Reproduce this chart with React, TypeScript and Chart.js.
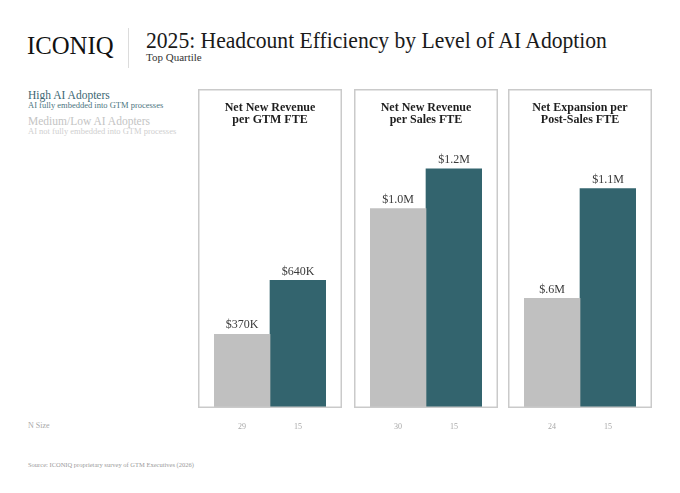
import React, { useEffect, useRef } from "react";
import { Chart, registerables } from "chart.js";

Chart.register(...registerables);

const panelTitles: string[][] = [
  ["Net New Revenue", "per GTM FTE"],
  ["Net New Revenue", "per Sales FTE"],
  ["Net Expansion per", "Post-Sales FTE"],
];
// values in $K
const mediumLowValues = [370, 1000, 550];
const highValues = [640, 1200, 1100];
const mediumLowLabels = ["$370K", "$1.0M", "$.6M"];
const highLabels = ["$640K", "$1.2M", "$1.1M"];
const mediumLowN = ["29", "30", "24"];
const highN = ["15", "15", "15"];
const yMax = 1600;

const SERIF = "'Liberation Serif', 'Times New Roman', serif";
const GRAY = "#c0c0c0";
const TEAL = "#33646e";

const panelLefts = [198, 354, 508];
const PANEL_W = 144;
const PANEL_TOP = 89;
const CANVAS_H = 352;
const INSET = 16;

function Panel({ index }: { index: number }) {
  const ref = useRef<HTMLCanvasElement | null>(null);
  useEffect(() => {
    if (!ref.current) return;
    const labelsByDataset = [
      [mediumLowLabels[index], ""],
      ["", highLabels[index]],
    ];
    const decor = {
      id: "panelDecor",
      afterDatasetsDraw(chart: any) {
        const { ctx, chartArea } = chart;
        ctx.save();
        // value labels
        ctx.font = `12px ${SERIF}`;
        ctx.fillStyle = "#3a3a3a";
        ctx.textAlign = "center";
        ctx.textBaseline = "middle";
        chart.data.datasets.forEach((ds: any, di: number) => {
          const meta = chart.getDatasetMeta(di);
          meta.data.forEach((el: any, j: number) => {
            if (ds.data[j] == null) return;
            ctx.fillText(labelsByDataset[di][j], el.x, el.y - 9);
          });
        });
        // box
        const left = chartArea.left - INSET;
        const right = chartArea.right + INSET;
        ctx.strokeStyle = "#cacaca";
        ctx.lineWidth = 1.5;
        ctx.strokeRect(left + 0.75, chartArea.top + 0.75, right - left - 1.5, chartArea.bottom - chartArea.top - 1.5);
        // title
        ctx.font = `bold 12px ${SERIF}`;
        ctx.fillStyle = "#1e1e1e";
        const cx = (left + right) / 2;
        panelTitles[index].forEach((line, k) => {
          ctx.fillText(line, cx, chartArea.top + 18.5 + k * 12.5);
        });
        ctx.restore();
      },
    };
    const chart = new Chart(ref.current, {
      type: "bar",
      data: {
        labels: [mediumLowN[index], highN[index]],
        datasets: [
          {
            label: "Medium/Low AI Adopters",
            data: [mediumLowValues[index], null],
            backgroundColor: GRAY,
            borderWidth: 0,
            barPercentage: 1,
            categoryPercentage: 1,
          },
          {
            label: "High AI Adopters",
            data: [null, highValues[index]],
            backgroundColor: TEAL,
            borderWidth: 0,
            barPercentage: 1,
            categoryPercentage: 1,
          },
        ],
      },
      options: {
        responsive: false,
        maintainAspectRatio: false,
        animation: false,
        layout: { padding: { left: INSET, right: INSET, top: 0, bottom: 0 } },
        plugins: { legend: { display: false }, tooltip: { enabled: false }, title: { display: false } },
        scales: {
          x: {
            stacked: true,
            grid: { display: false, drawTicks: false },
            border: { display: false },
            ticks: { padding: 14, color: "#a8a8a8", font: { family: SERIF, size: 8 } },
            afterFit(scale: any) {
              scale.height = 33;
            },
          },
          y: { stacked: true, display: false, min: 0, max: yMax },
        },
      } as any,
      plugins: [decor],
    });
    return () => chart.destroy();
  }, [index]);
  return (
    <canvas
      ref={ref}
      width={PANEL_W}
      height={CANVAS_H}
      style={{ position: "absolute", left: panelLefts[index], top: PANEL_TOP, width: PANEL_W, height: CANVAS_H }}
    />
  );
}

function Txt({ x, y, size, color, children, weight, scaleX }: any) {
  // y = vertical centre of line box
  return (
    <div
      style={{
        position: "absolute",
        left: x,
        top: y - size / 2,
        fontSize: size,
        lineHeight: `${size}px`,
        height: size,
        color,
        fontWeight: weight || "normal",
        whiteSpace: "nowrap",
        transform: scaleX ? `scaleX(${scaleX})` : undefined,
        transformOrigin: "left center",
      }}
    >
      {children}
    </div>
  );
}

export default function App() {
  return (
    <div
      style={{
        position: "absolute",
        left: 0,
        top: 0,
        width: 680,
        height: 493,
        background: "#fff",
        fontFamily: SERIF,
        overflow: "hidden",
      }}
    >
      <Txt x={27} y={45} size={25} color="#111" scaleX={0.99}>ICONIQ</Txt>
      <div style={{ position: "absolute", left: 128, top: 28, width: 1, height: 40, background: "#dcdcdc" }} />
      <Txt x={146} y={40} size={24} color="#1a1a1a" scaleX={0.9}>
        2025: Headcount Efficiency by Level of AI Adoption
      </Txt>
      <Txt x={146} y={57} size={11} color="#333">Top Quartile</Txt>

      <Txt x={28} y={96} size={11.5} color="#3b6672">High AI Adopters</Txt>
      <Txt x={28} y={105.5} size={8.5} color="#4c7580">AI fully embedded into GTM processes</Txt>
      <Txt x={28} y={121.5} size={11.5} color="#c4c4c4">Medium/Low AI Adopters</Txt>
      <Txt x={28} y={131.5} size={8.5} color="#cfcfcf">AI not fully embedded into GTM processes</Txt>

      {[0, 1, 2].map((i) => (
        <Panel key={i} index={i} />
      ))}

      <Txt x={28} y={426} size={8} color="#a8a8a8">N Size</Txt>
      <Txt x={28} y={465} size={6.5} color="#9a9a9a">Source: ICONIQ proprietary survey of GTM Executives (2026)</Txt>
    </div>
  );
}
